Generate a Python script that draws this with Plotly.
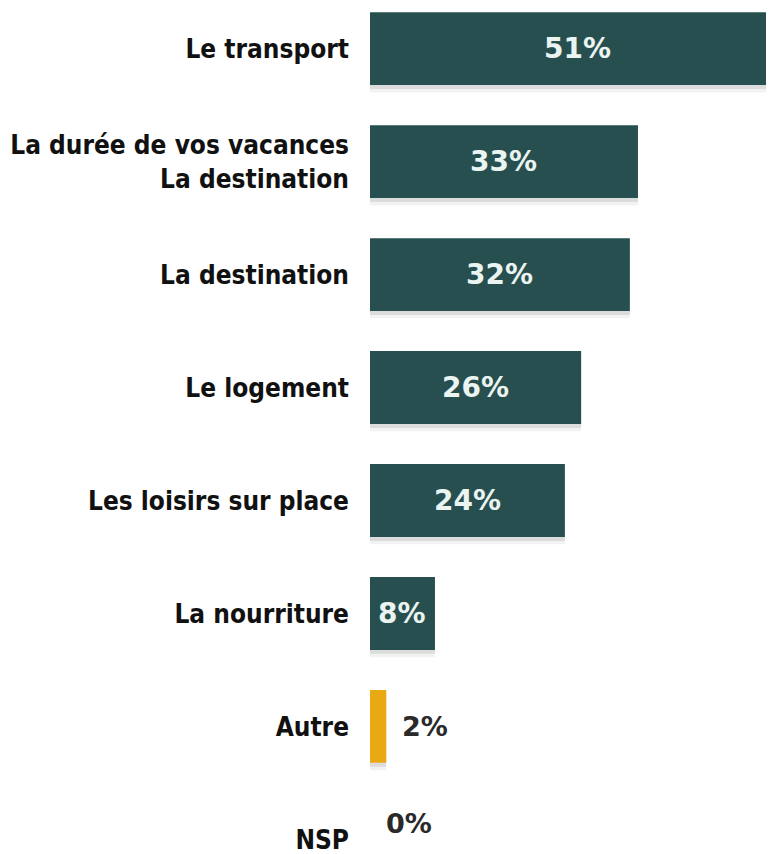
import plotly.graph_objects as go

categories = ["Le transport", "La durée de vos vacances<br>La destination", "La destination",
              "Le logement", "Les loisirs sur place", "La nourriture", "Autre", "NSP"]
values = [51, 33, 32, 26, 24, 8, 2, 0]
value_labels = ["51%", "33%", "32%", "26%", "24%", "8%", "2%", "0%"]
bar_colors = ["#284F4F"] * 6 + ["#E8A915", "#E8A915"]
label_inside = [True] * 6 + [False, False]

ypos = list(range(len(categories)))
BW = 0.645

fig = go.Figure()
# soft shadow under bars (two layers)
for off, alpha in [(0.065, 0.05), (0.035, 0.09)]:
    fig.add_trace(go.Bar(
        x=values, y=ypos, orientation="h", width=BW, offset=-BW / 2 + off,
        marker=dict(color=f"rgba(0,0,0,{alpha})", line=dict(width=0)), hoverinfo="skip",
    ))
fig.add_trace(go.Bar(
    x=values, y=ypos, orientation="h", width=BW,
    marker=dict(color=bar_colors, line=dict(width=0)),
))

for yi, (v, lab, inside) in enumerate(zip(values, value_labels, label_inside)):
    if inside:
        fig.add_annotation(x=v / 2, y=yi, text=lab, showarrow=False, xanchor="center",
                           font=dict(family="DejaVu Sans", size=28, color="#EAF4F1", weight="bold"))
    else:
        fig.add_annotation(x=v, y=yi, text=lab, showarrow=False, xanchor="left", xshift=14,
                           yshift=(16 if v == 0 else 0),
                           font=dict(family="DejaVu Sans", size=27, color="#2a2a2a", weight="bold"))

fig.update_layout(
    width=766, height=846, paper_bgcolor="white", plot_bgcolor="white",
    margin=dict(l=362, r=0, t=0, b=0), showlegend=False, barmode="overlay",
    xaxis=dict(range=[0, 49.75], visible=False, fixedrange=True),
    yaxis=dict(range=[7.085, -0.36], tickmode="array",
               tickvals=ypos, ticktext=categories,
               showgrid=False, zeroline=False, showline=False, ticks="",
               ticklabelstandoff=20, ticklabeloverflow="allow",
               tickfont=dict(family="DejaVu Sans Condensed", size=26, color="#111111", weight="bold")),
)

fig.write_html("out.html")
